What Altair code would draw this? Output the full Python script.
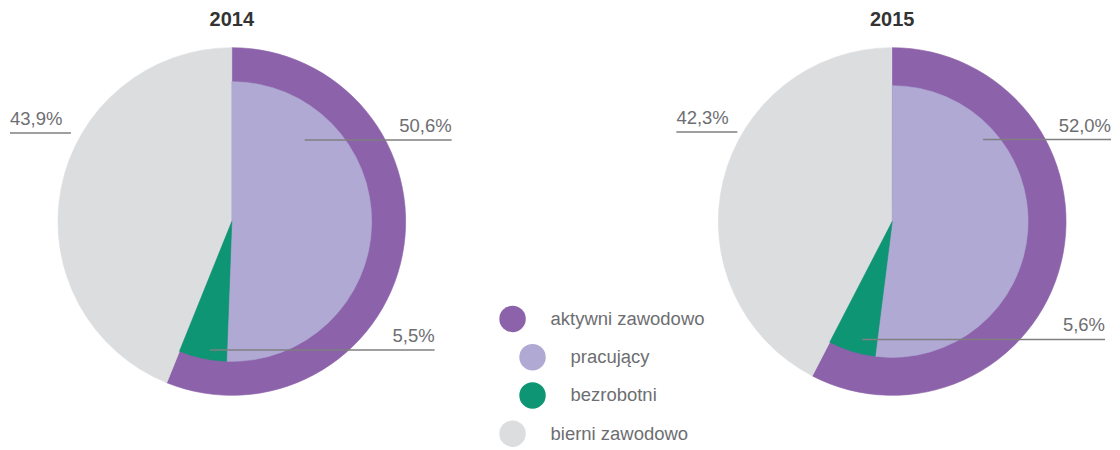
import altair as alt
import pandas as pd

# ---------------- data ----------------
YEARS = ["2014", "2015"]
PRACUJACY = [50.6, 52.0]
BEZROBOTNI = [5.5, 5.6]
BIERNI = [43.9, 42.3]
CATEGORIES = ["aktywni zawodowo", "pracujący", "bezrobotni", "bierni zawodowo"]
LEGEND_INDENT = [0, 1, 1, 0]

# ---------------- style ----------------
COLORS = ["#8c62aa", "#afa9d3", "#0e9674", "#dcdddf"]
FONT = "Liberation Sans"
TEXT_GREY = "#6d6e71"
LINE_GREY = "#7f7f7f"
TITLE_COLOR = "#333333"

H = 427
H_LEG = 427
W_PIE = [448, 438]
W_LEG = 218
R_OUT = 174
R_IN = [140, 136]

# leader-line layout, relative to pie centre: (category, x0, x1, y, side)
LEADERS = {
    "2014": [("pracujący", 73, 220, -81.5, "right"),
             ("bezrobotni", -22, 203, 128.5, "right"),
             ("bierni zawodowo", -222, -161, -88.5, "left")],
    "2015": [("pracujący", 91, 219, -82, "right"),
             ("bezrobotni", -30, 213, 118, "right"),
             ("bierni zawodowo", -216, -155, -89.5, "left")],
}


def fmt(v):
    return f"{v:.1f}".replace(".", ",") + "%"


cscale = alt.Scale(domain=CATEGORIES, range=COLORS)
color = alt.Color("cat:N", scale=cscale, legend=None)
stroke = alt.Stroke("cat:N", scale=cscale, legend=None)


def pie_panel(i):
    year = YEARS[i]
    W = W_PIE[i]
    xs = alt.Scale(domain=[-W / 2, W / 2], nice=False, zero=False)
    ys = alt.Scale(domain=[-H / 2, H / 2], nice=False, zero=False, reverse=True)
    theta = alt.Theta("value:Q", stack=True, scale=alt.Scale(domain=[0, 100]))

    outer = pd.DataFrame({
        "cat": ["aktywni zawodowo", "bierni zawodowo"],
        "value": [PRACUJACY[i] + BEZROBOTNI[i], BIERNI[i]],
        "ord": [0, 1],
    })
    inner = pd.DataFrame({
        "cat": ["pracujący", "bezrobotni"],
        "value": [PRACUJACY[i], BEZROBOTNI[i]],
        "ord": [0, 1],
    })
    vals = {"pracujący": PRACUJACY[i], "bezrobotni": BEZROBOTNI[i], "bierni zawodowo": BIERNI[i]}
    rows = []
    for cat, x0, x1, y, side in LEADERS[year]:
        rows.append({"x0": x0, "x1": x1, "y": y, "side": side,
                     "tx": x1 if side == "right" else x0, "label": fmt(vals[cat])})
    lead = pd.DataFrame(rows)
    title = pd.DataFrame({"t": [year], "x": [0], "y": [-(R_OUT + 21.5)]})

    ring = alt.Chart(outer).mark_arc(radius=R_OUT, strokeWidth=0.6).encode(
        theta=theta, color=color, stroke=stroke, order=alt.Order("ord:Q"))
    core = alt.Chart(inner).mark_arc(radius=R_IN[i], strokeWidth=0.6).encode(
        theta=theta, color=color, stroke=stroke, order=alt.Order("ord:Q"))
    rules = alt.Chart(lead).mark_rule(color=LINE_GREY, strokeWidth=1.5).encode(
        x=alt.X("x0:Q", scale=xs, axis=None), x2="x1:Q",
        y=alt.Y("y:Q", scale=ys, axis=None))
    txt_r = alt.Chart(lead).transform_filter(alt.datum.side == "right").mark_text(
        align="right", baseline="alphabetic", dy=-8, font=FONT, fontSize=18.5,
        color=TEXT_GREY).encode(
        x=alt.X("tx:Q", scale=xs, axis=None), y=alt.Y("y:Q", scale=ys, axis=None),
        text="label:N")
    txt_l = alt.Chart(lead).transform_filter(alt.datum.side == "left").mark_text(
        align="left", baseline="alphabetic", dy=-8, font=FONT, fontSize=18.5,
        color=TEXT_GREY).encode(
        x=alt.X("tx:Q", scale=xs, axis=None), y=alt.Y("y:Q", scale=ys, axis=None),
        text="label:N")
    ttl = alt.Chart(title).mark_text(
        align="center", baseline="alphabetic", font=FONT, fontSize=20,
        fontWeight="bold", color=TITLE_COLOR).encode(
        x=alt.X("x:Q", scale=xs, axis=None), y=alt.Y("y:Q", scale=ys, axis=None),
        text="t:N")
    return alt.layer(ring, core, rules, txt_r, txt_l, ttl).properties(width=W, height=H)


def legend_panel():
    leg = pd.DataFrame({"cat": CATEGORIES, "indent": LEGEND_INDENT,
                        "row": list(range(len(CATEGORIES)))})
    base = alt.Chart(leg).transform_calculate(
        cx="57 + 20 * datum.indent", cy="311 + 38.3 * datum.row", tx="datum.cx + 38")
    xs = alt.Scale(domain=[0, W_LEG], nice=False, zero=False)
    ys = alt.Scale(domain=[0, H_LEG], nice=False, zero=False, reverse=True)
    dots = base.mark_circle(size=700, opacity=1).encode(
        x=alt.X("cx:Q", scale=xs, axis=None), y=alt.Y("cy:Q", scale=ys, axis=None),
        color=color)
    labels = base.mark_text(align="left", baseline="middle", font=FONT, fontSize=18.5,
                            color=TEXT_GREY).encode(
        x=alt.X("tx:Q", scale=xs, axis=None), y=alt.Y("cy:Q", scale=ys, axis=None),
        text="cat:N")
    return alt.layer(dots, labels).properties(width=W_LEG, height=H_LEG)


chart = alt.hconcat(pie_panel(0), legend_panel(), pie_panel(1), spacing=0, bounds="flush").resolve_scale(
    x="independent", y="independent", theta="independent"
).properties(padding=0).configure_view(stroke=None)

chart.save("out.html", embed_options={"renderer": "svg", "actions": False})
